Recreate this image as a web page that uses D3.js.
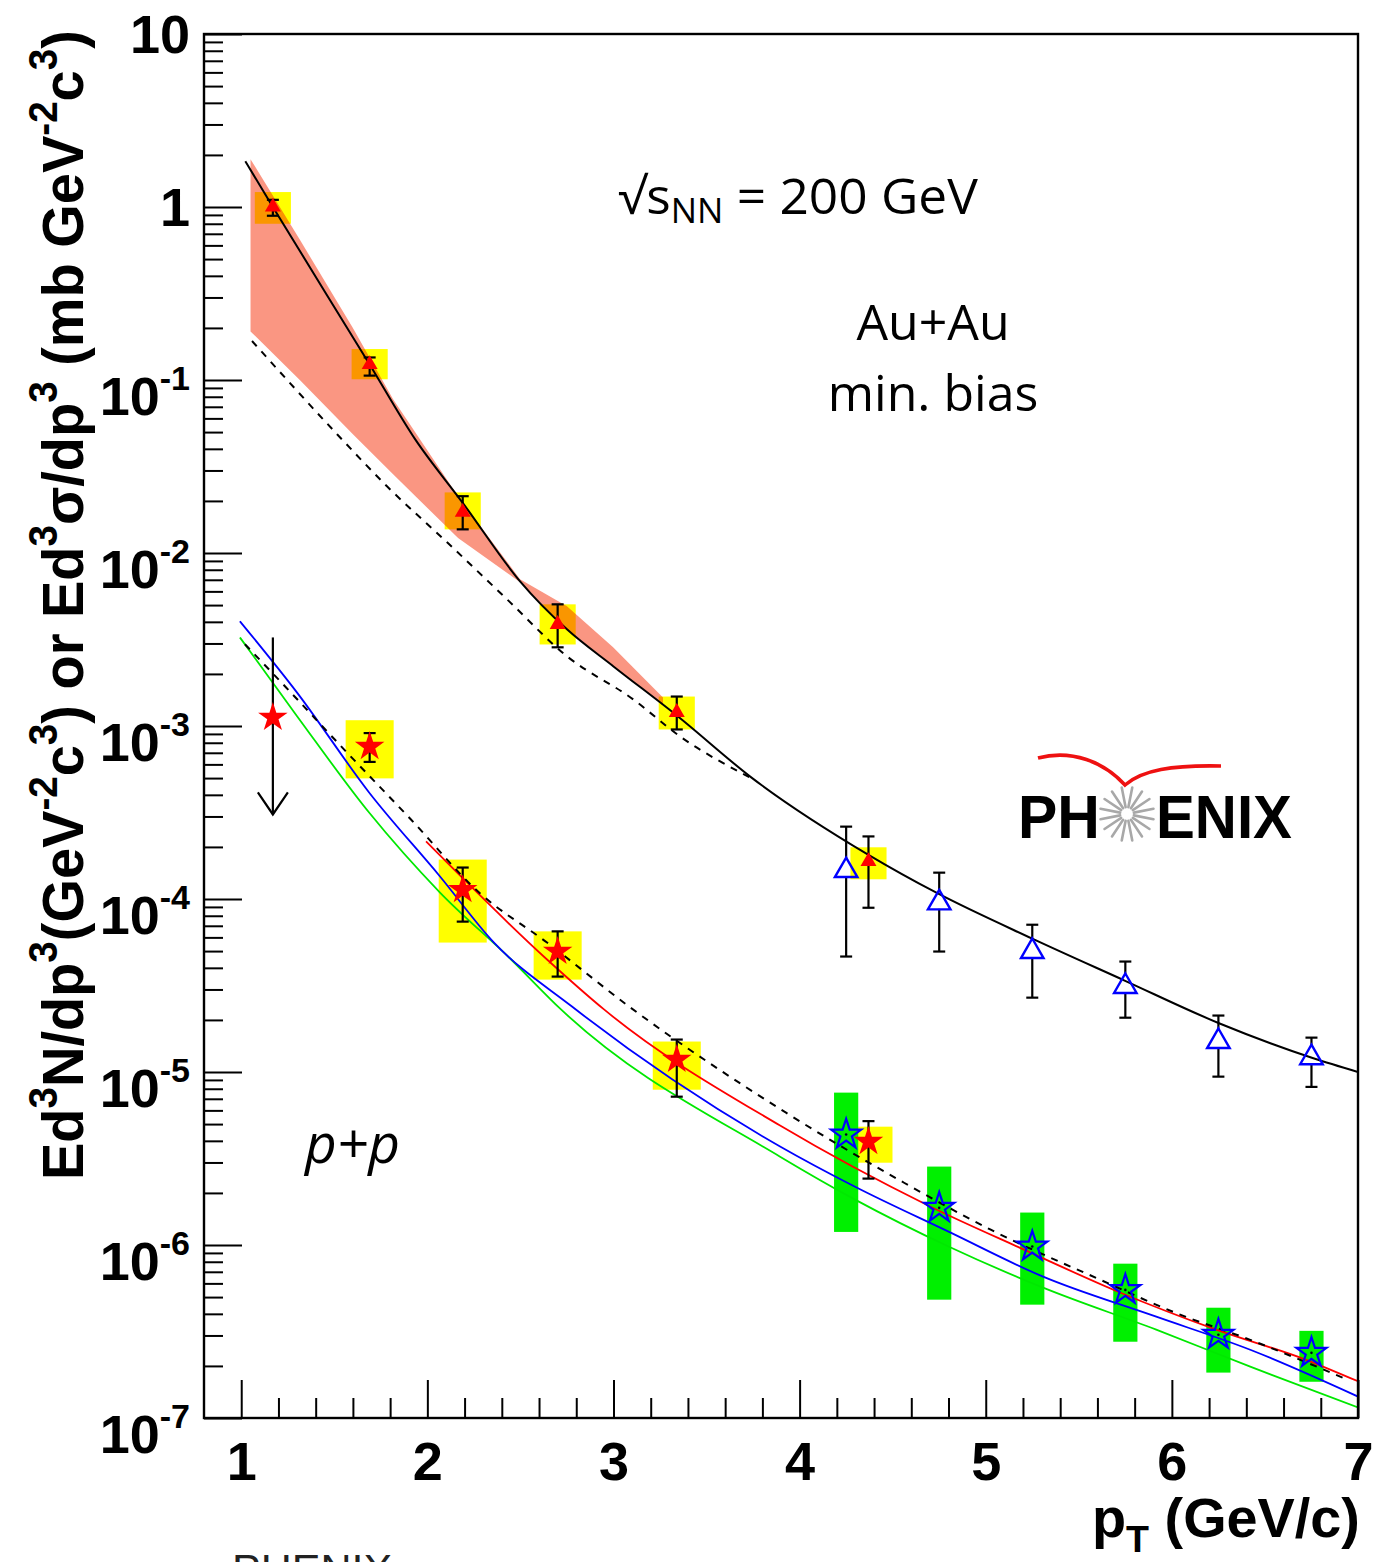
<!DOCTYPE html>
<html><head><meta charset="utf-8">
<script src="https://cdn.jsdelivr.net/npm/d3@7"></script>
<style>html,body{margin:0;padding:0;background:#fff;} svg{display:block;} text{white-space:pre;}</style>
</head><body>
<svg id="c" width="1384" height="1562"></svg>
<script>
// ---------------- DATA ----------------
const yMajorTicks = [1e-7,1e-6,1e-5,1e-4,1e-3,1e-2,1e-1,1,10];
const xMajorTicks = [1,2,3,4,5,6,7];
const xMinorTicks = [1.2,1.4,1.6,1.8,2.2,2.4,2.6,2.8,3.2,3.4,3.6,3.8,4.2,4.4,4.6,4.8,5.2,5.4,5.6,5.8,6.2,6.4,6.6,6.8];

// Au+Au direct photons (red filled triangles, yellow syst. boxes)
const auauPt    = [1.17, 1.69, 2.19, 2.70, 3.34, 4.37];
const auauY     = [1.0, 0.123, 0.0172, 0.00387, 0.0012, 1.65e-4];
const auauErrLo = [0.89, 0.106, 0.0137, 0.00285, 9.55e-4, 8.9e-5];
const auauErrHi = [1.10, 0.135, 0.0213, 0.00505, 1.48e-3, 2.3e-4];
const auauSysLo = [0.80, 0.101, 0.0137, 0.00296, 9.55e-4, 1.30e-4];
const auauSysHi = [1.22, 0.151, 0.0224, 0.00505, 1.48e-3, 1.99e-4];

// Au+Au (blue open triangles)
const auau2Pt    = [4.25, 4.75, 5.25, 5.75, 6.25, 6.75];
const auau2Y     = [1.46e-4, 9.5e-5, 4.97e-5, 3.12e-5, 1.5e-5, 1.21e-5];
const auau2ErrLo = [4.65e-5, 4.97e-5, 2.69e-5, 2.06e-5, 9.4e-6, 8.2e-6];
const auau2ErrHi = [2.62e-4, 1.42e-4, 7.1e-5, 4.35e-5, 2.12e-5, 1.58e-5];

// p+p (red filled stars, yellow syst. boxes); first point is an upper limit
const ppPt    = [1.17, 1.69, 2.19, 2.70, 3.34, 4.37];
const ppY     = [1.12e-3, 7.6e-4, 1.13e-4, 4.97e-5, 1.18e-5, 3.96e-6];
const ppErrLo = [null, 6.2e-4, 7.4e-5, 3.56e-5, 7.2e-6, 2.42e-6];
const ppErrHi = [null, 9.1e-4, 1.52e-4, 6.5e-5, 1.54e-5, 5.2e-6];
const ppSysLo = [null, 4.98e-4, 5.6e-5, 3.42e-5, 7.9e-6, 2.99e-6];
const ppSysHi = [null, 1.08e-3, 1.69e-4, 6.5e-5, 1.5e-5, 4.83e-6];
const ppLimitFrom = [3.25e-3, null, null, null, null, null];
const ppLimitTo   = [3.08e-4, null, null, null, null, null];

// p+p (blue open stars, green syst. boxes)
const pp2Pt    = [4.25, 4.75, 5.25, 5.75, 6.25, 6.75];
const pp2Y     = [4.35e-6, 1.64e-6, 9.8e-7, 5.5e-7, 3.03e-7, 2.38e-7];
const pp2SysLo = [1.19e-6, 4.83e-7, 4.52e-7, 2.76e-7, 1.83e-7, 1.62e-7];
const pp2SysHi = [7.6e-6, 2.84e-6, 1.54e-6, 7.8e-7, 4.34e-7, 3.19e-7];

// thermal band (salmon)
const bandPt = [1.05, 1.316, 1.6, 1.816, 2.165, 2.498, 2.75, 2.998, 3.266];
const bandHi = [1.89, 0.644, 0.2, 0.0775, 0.0213, 0.00705, 4.92e-3, 2.85e-3, 1.46e-3];
const bandLo = [0.191, 0.0998, 0.0486, 0.0285, 0.0122, 0.00678, 3.62e-3, 2.21e-3, 1.33e-3];

// Au+Au fit (black solid)
const fitAuPt = [1.022, 1.17, 1.69, 1.934, 2.19, 2.498, 2.75, 3.0, 3.34, 3.74, 4.37, 4.74, 5.25, 5.74, 6.26, 6.76, 7.0];
const fitAuY  = [1.84, 1.0, 0.123, 0.0455, 0.0195, 6.86e-3, 3.62e-3, 2.21e-3, 1.15e-3, 5.05e-4, 1.8e-4, 1.08e-4, 5.9e-5, 3.4e-5, 1.9e-5, 1.2e-5, 1.0e-5];

// TAA-scaled p+p fit (black dashed, upper)
const scaledPpPt = [1.058, 1.515, 1.783, 2.106, 2.428, 2.75, 3.104, 3.358, 3.74];
const scaledPpY  = [0.168, 0.0486, 0.0243, 0.01153, 5.4e-3, 2.53e-3, 1.43e-3, 8.7e-4, 5.0e-4];

// p+p fit (black dashed, lower)
const ppFitPt = [1.02, 1.241, 1.552, 1.912, 2.278, 2.643, 3.084, 3.927, 4.561, 5.024, 5.615, 6.018, 6.421, 6.947];
const ppFitY  = [2.97e-3, 1.67e-3, 7.33e-4, 2.88e-4, 1.09e-4, 5.6e-5, 2.39e-5, 5.82e-6, 2.29e-6, 1.23e-6, 6.3e-7, 4.06e-7, 2.83e-7, 1.66e-7];

// pQCD curves
const redPt   = [1.993, 2.643, 2.949, 3.895, 4.701, 5.206, 5.711, 6.238, 6.721, 7.0];
const redY    = [2.15e-4, 4.47e-5, 2.3e-5, 4.9e-6, 1.67e-6, 9.4e-7, 5.37e-7, 3.24e-7, 2.17e-7, 1.63e-7];
const bluePt  = [0.993, 1.30, 1.687, 2.068, 2.358, 2.777, 3.895, 4.298, 4.803, 5.308, 5.916, 6.421, 7.0];
const blueY   = [4.03e-3, 1.56e-3, 4.13e-4, 1.35e-4, 5.6e-5, 2.39e-5, 3.71e-6, 2.17e-6, 1.19e-6, 6.56e-7, 3.85e-7, 2.48e-7, 1.33e-7];
const greenPt = [0.993, 1.30, 1.687, 2.068, 2.45, 2.718, 3.895, 4.298, 4.803, 5.308, 5.916, 6.421, 7.0];
const greenY  = [3.25e-3, 1.14e-3, 3.16e-4, 1.09e-4, 4.47e-5, 2.3e-5, 3.24e-6, 1.83e-6, 9.77e-7, 5.67e-7, 3.24e-7, 1.98e-7, 1.15e-7];

// ---------------- CHART ----------------
const L = 204, R = 1358, T = 34, B = 1418;
const x = d3.scaleLinear().domain([0.8, 7]).range([L, R]);
const y = d3.scaleLog().domain([1e-7, 10]).range([B, T]);
const svg = d3.select('#c');
const TF = '"Liberation Sans", Arial, Helvetica, sans-serif';
const OF = '"Open Sans", "Noto Sans", sans-serif';

svg.append('defs').append('clipPath').attr('id','pc').append('rect')
  .attr('x',L).attr('y',T).attr('width',R-L).attr('height',B-T);
const plot = svg.append('g').attr('clip-path','url(#pc)');

const zip = (a,b) => a.map((v,i)=>[v,b[i]]);
function boxes(pts, lo, hi, hw, color){
  plot.append('g').selectAll('rect').data(pts.map((p,i)=>({p,lo:lo[i],hi:hi[i]})).filter(d=>d.lo!=null))
    .join('rect')
    .attr('x',d=>x(d.p-hw)).attr('width',d=>x(d.p+hw)-x(d.p-hw))
    .attr('y',d=>y(d.hi)).attr('height',d=>y(d.lo)-y(d.hi))
    .attr('fill',color);
}
function curve(pts, vals, color, width, dash){
  const line = d3.line().x(d=>x(d[0])).y(d=>y(d[1])).curve(d3.curveMonotoneX);
  plot.append('path').attr('d', line(zip(pts,vals))).attr('fill','none')
    .attr('stroke',color).attr('stroke-width',width).attr('stroke-dasharray',dash||null);
}

// boxes and band
boxes(auauPt, auauSysLo, auauSysHi, 0.097, '#ffff00');
const area = d3.area().x(d=>x(d.p)).y0(d=>y(d.lo)).y1(d=>y(d.hi)).curve(d3.curveLinear);
plot.append('path').attr('d', area(bandPt.map((p,i)=>({p,lo:bandLo[i],hi:bandHi[i]}))))
  .attr('fill','rgb(245,41,0)').attr('fill-opacity',0.49);
boxes(ppPt, ppSysLo, ppSysHi, 0.129, '#ffff00');
boxes(pp2Pt, pp2SysLo, pp2SysHi, 0.065, '#00f000');

// curves
curve(greenPt, greenY, '#00e800', 1.8);
curve(bluePt, blueY, '#0000ff', 1.8);
curve(redPt, redY, '#ff0000', 1.8);
curve(ppFitPt, ppFitY, '#000', 2, '7,7');
curve(scaledPpPt, scaledPpY, '#000', 2, '7,7');
curve(fitAuPt, fitAuY, '#000', 2);

// error bars
function errbars(pts, vals, lo, hi, gapUp, gapDn){
  const g = plot.append('g').attr('stroke','#000').attr('stroke-width',2.2);
  pts.forEach((p,i)=>{
    if(lo[i]==null) return;
    const px = x(p), cy = y(vals[i]), yt = y(hi[i]), yb = y(lo[i]);
    if(yt < cy - gapUp) g.append('line').attr('x1',px).attr('x2',px).attr('y1',yt).attr('y2',cy-gapUp);
    if(yb > cy + gapDn) g.append('line').attr('x1',px).attr('x2',px).attr('y1',cy+gapDn).attr('y2',yb);
    g.append('line').attr('x1',px-6).attr('x2',px+6).attr('y1',yt).attr('y2',yt);
    g.append('line').attr('x1',px-6).attr('x2',px+6).attr('y1',yb).attr('y2',yb);
  });
}
errbars(auauPt, auauY, auauErrLo, auauErrHi, 0, 0);
errbars(auau2Pt, auau2Y, auau2ErrLo, auau2ErrHi, 12, 6);
errbars(ppPt, ppY, ppErrLo, ppErrHi, 0, 0);

// upper-limit arrow
ppPt.forEach((p,i)=>{
  if(ppLimitFrom[i]==null) return;
  const px = x(p), y1 = y(ppLimitFrom[i]), y2 = y(ppLimitTo[i]);
  const g = plot.append('g').attr('stroke','#000').attr('stroke-width',2.2).attr('fill','none');
  g.append('line').attr('x1',px).attr('x2',px).attr('y1',y1).attr('y2',y2);
  g.append('path').attr('d',`M${px-15},${y2-22}L${px},${y2}L${px+15},${y2-22}`);
});

// markers
const sym = (t,s)=>d3.symbol().type(t).size(s)();
plot.append('g').selectAll('path').data(zip(auauPt,auauY)).join('path')
  .attr('d',sym(d3.symbolTriangle,110)).attr('transform',d=>`translate(${x(d[0])},${y(d[1])})`)
  .attr('fill','#ff0000');
plot.append('g').selectAll('path').data(zip(auau2Pt,auau2Y)).join('path')
  .attr('d',sym(d3.symbolTriangle,220)).attr('transform',d=>`translate(${x(d[0])},${y(d[1])})`)
  .attr('fill','none').attr('stroke','#0000ff').attr('stroke-width',2.4);
plot.append('g').selectAll('path').data(zip(ppPt,ppY)).join('path')
  .attr('d',sym(d3.symbolStar,270)).attr('transform',d=>`translate(${x(d[0])},${y(d[1])})`)
  .attr('fill','#ff0000');
plot.append('g').selectAll('path').data(zip(pp2Pt,pp2Y)).join('path')
  .attr('d',sym(d3.symbolStar,280)).attr('transform',d=>`translate(${x(d[0])},${y(d[1])})`)
  .attr('fill','none').attr('stroke','#0000ff').attr('stroke-width',2.2);
plot.append('g').selectAll('circle').data(zip(pp2Pt,pp2Y)).join('circle')
  .attr('cx',d=>x(d[0])).attr('cy',d=>y(d[1])).attr('r',1.3).attr('fill','#002');

// ---------------- AXES ----------------
function styleAxis(g){ g.select('.domain').remove(); g.selectAll('.tick line').attr('stroke','#000').attr('stroke-width',2); g.selectAll('.tick text').remove(); }
const yMinor = [];
for(let e=-7;e<1;e++) for(let m=2;m<=9;m++) yMinor.push(m*Math.pow(10,e));
svg.append('g').attr('transform',`translate(${L},0)`)
  .call(d3.axisLeft(y).tickValues(yMinor).tickSize(-19).tickFormat(()=>'')).call(styleAxis);
const yAx = svg.append('g').attr('transform',`translate(${L},0)`)
  .call(d3.axisLeft(y).tickValues(yMajorTicks).tickSize(-38).tickFormat(()=>'')).call(styleAxis);
yAx.selectAll('.tick').each(function(d){
  const e = Math.round(Math.log10(d));
  const t = d3.select(this).append('text').attr('x',-14).attr('text-anchor','end')
    .attr('font-family',TF).attr('font-weight','bold').attr('font-size',54).attr('fill','#000');
  if(e===1){ t.attr('dy',18).text('10'); }
  else if(e===0){ t.attr('dy',18).text('1'); }
  else { t.append('tspan').attr('dy',34).text('10'); t.append('tspan').attr('font-size',34).attr('dy',-25).text(String(e)); }
});
svg.append('g').attr('transform',`translate(0,${B})`)
  .call(d3.axisBottom(x).tickValues(xMinorTicks).tickSize(-20).tickFormat(()=>'')).call(styleAxis);
const xAx = svg.append('g').attr('transform',`translate(0,${B})`)
  .call(d3.axisBottom(x).tickValues(xMajorTicks).tickSize(-38).tickFormat(()=>'')).call(styleAxis);
xAx.selectAll('.tick').append('text').attr('y',62).attr('text-anchor','middle')
  .attr('font-family',TF).attr('font-weight','bold').attr('font-size',54).attr('fill','#000')
  .text(d=>String(d));

// frame
svg.append('rect').attr('x',L).attr('y',T).attr('width',R-L).attr('height',B-T)
  .attr('fill','none').attr('stroke','#000').attr('stroke-width',2.4);

// axis titles
function richText(g, parts, size, supSize, shift, family, weight){
  const t = g.append('text').attr('font-family',family).attr('font-weight',weight).attr('font-size',size).attr('fill','#000');
  let cur = 0;
  parts.forEach(([s,k])=>{
    const target = k*shift; // k: -1 sup, 1 sub, 0 normal
    t.append('tspan').attr('font-size', k===0?size:supSize).attr('dy', target-cur).text(s);
    cur = target;
  });
  return t;
}
const ytg = svg.append('g');
const yt = richText(ytg, [["Ed",0],["3",-1],["N/dp",0],["3",-1],["(GeV",0],["-2",-1],["c",0],["3",-1],[") or Ed",0],["3",-1],["σ/dp",0],["3",-1],[" (mb GeV",0],["-2",-1],["c",0],["3",-1],[")",0]], 58, 40, 26, TF, 'bold');
const yw = yt.node().getComputedTextLength();
ytg.attr('transform',`translate(83,1180) rotate(-90) scale(${1150/yw},1)`);

const xtg = svg.append('g');
const xt = richText(xtg, [["p",0],["T",1],[" (GeV/c)",0]], 55, 37, 15, TF, 'bold');
const xw = xt.node().getComputedTextLength();
xtg.attr('transform',`translate(1360,1537) scale(${268/xw},1) translate(${-xw},0)`);

// annotations
const sg = svg.append('g');
const st = richText(sg, [["√s",0],["NN",1],[" = 200 GeV",0]], 50, 34, 9, OF, 'normal');
const sw = st.node().getComputedTextLength();
sg.attr('transform',`translate(618,214) scale(${360/sw},1)`);

svg.append('text').attr('x',933).attr('y',340).attr('text-anchor','middle').attr('font-family',OF).attr('font-size',50).text('Au+Au');
svg.append('text').attr('x',933).attr('y',411).attr('text-anchor','middle').attr('font-family',OF).attr('font-size',50).text('min. bias');
svg.append('text').attr('x',305).attr('y',1163).attr('font-family',OF).attr('font-style','italic').attr('font-size',55).text('p+p');

// PHENIX logo
function fitText(txt, x0, yb, w, size, family, weight, fill){
  const g = svg.append('g');
  const t = g.append('text').attr('font-family',family).attr('font-weight',weight).attr('font-size',size).attr('fill',fill).text(txt);
  const tw = t.node().getComputedTextLength();
  g.attr('transform',`translate(${x0},${yb}) scale(${w/tw},1)`);
}
fitText('PH', 1018, 838, 82, 62, TF, 'bold', '#000');
fitText('ENIX', 1156, 838, 136, 62, TF, 'bold', '#000');
const sun = svg.append('g').attr('transform','translate(1127,814)').attr('stroke','#a8a8a8').attr('stroke-width',2.6).attr('stroke-linecap','round');
d3.range(16).forEach(i=>{
  const a = i*Math.PI/8 + Math.PI/16;
  sun.append('line').attr('x1',7*Math.cos(a)).attr('y1',7*Math.sin(a)).attr('x2',27*Math.cos(a)).attr('y2',27*Math.sin(a));
});
svg.append('path').attr('d','M1038,758 C1072,749 1104,762 1125,785 C1142,770 1172,765 1221,766')
  .attr('fill','none').attr('stroke','#ee1111').attr('stroke-width',3.6);

// footer text, cut off at the bottom edge as in the reference
svg.append('text').attr('x',232).attr('y',1584).attr('font-family',TF).attr('font-size',43).attr('fill','#222').text('PHENIX');
</script>
</body></html>
